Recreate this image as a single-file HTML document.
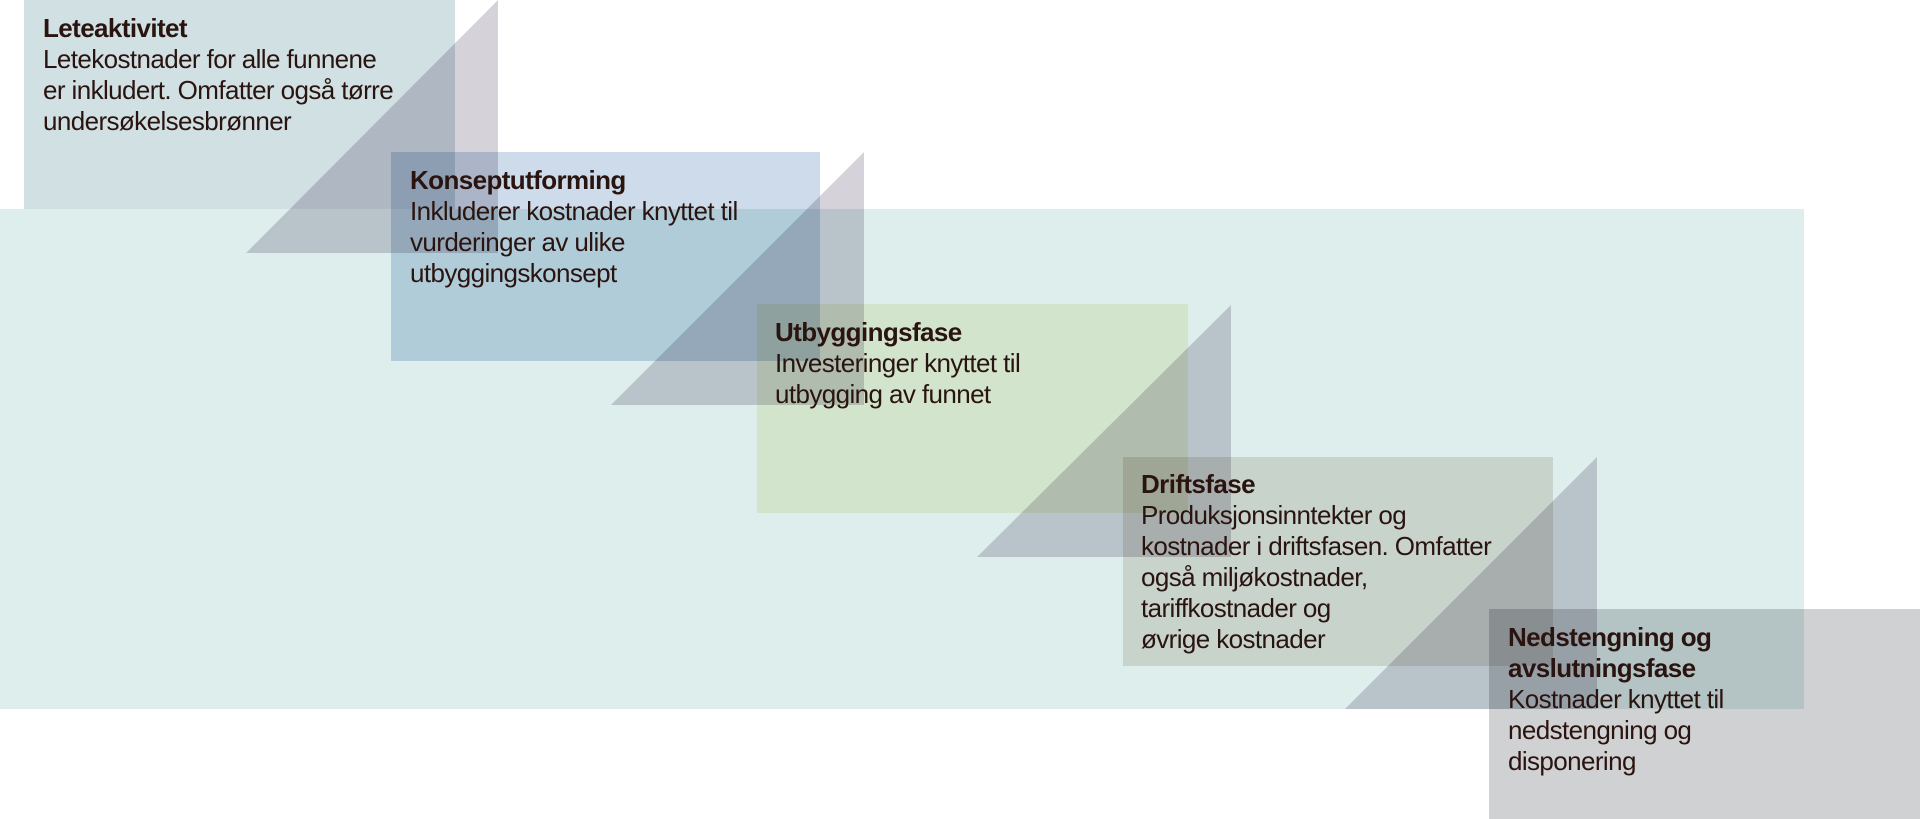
<!DOCTYPE html>
<html><head><meta charset="utf-8"><style>
html,body{margin:0;padding:0;background:#fff;}
body{width:1920px;height:819px;position:relative;overflow:hidden;font-family:"Liberation Sans",sans-serif;}
.r{position:absolute;mix-blend-mode:multiply;}
svg{position:absolute;left:0;top:0;}
.t{position:absolute;color:#2a1410;font-size:26px;line-height:31px;letter-spacing:-0.6px;z-index:5;white-space:nowrap;}
</style></head><body>
<div class="r" style="left:0;top:209px;width:1804px;height:500px;background:#ddeeed"></div>
<div class="r" style="left:24px;top:0;width:431px;height:209px;background:#d1e0e3"></div>
<div class="r" style="left:391px;top:152px;width:429px;height:209px;background:#cddbea"></div>
<div class="r" style="left:757px;top:304px;width:431px;height:209px;background:#f3f5db"></div>
<div class="r" style="left:1123px;top:457px;width:430px;height:209px;background:#e7e2dc"></div>
<div class="r" style="left:1489px;top:609px;width:431px;height:210px;background:#d0d1d3"></div>
<svg width="1920" height="819" style="mix-blend-mode:multiply">
<g fill="#d6d2da">
<polygon points="498,0 498,253 246,253"/>
<polygon points="864,152 864,405 611,405"/>
<polygon points="1231,305 1231,557 977,557"/>
<polygon points="1597,457 1597,709 1345,709"/>
</g></svg>
<div class="t" style="left:43px;top:13px"><b>Leteaktivitet</b><br>Letekostnader for alle funnene<br>er inkludert. Omfatter også tørre<br>undersøkelsesbrønner</div>
<div class="t" style="left:410px;top:165px"><b>Konseptutforming</b><br>Inkluderer kostnader knyttet til<br>vurderinger av ulike<br>utbyggingskonsept</div>
<div class="t" style="left:775px;top:317px"><b>Utbyggingsfase</b><br>Investeringer knyttet til<br>utbygging av funnet</div>
<div class="t" style="left:1141px;top:469px"><b>Driftsfase</b><br>Produksjonsinntekter og<br>kostnader i driftsfasen. Omfatter<br>også miljøkostnader,<br>tariffkostnader og<br>øvrige kostnader</div>
<div class="t" style="left:1508px;top:622px"><b>Nedstengning og<br>avslutningsfase</b><br>Kostnader knyttet til<br>nedstengning og<br>disponering</div>
</body></html>
